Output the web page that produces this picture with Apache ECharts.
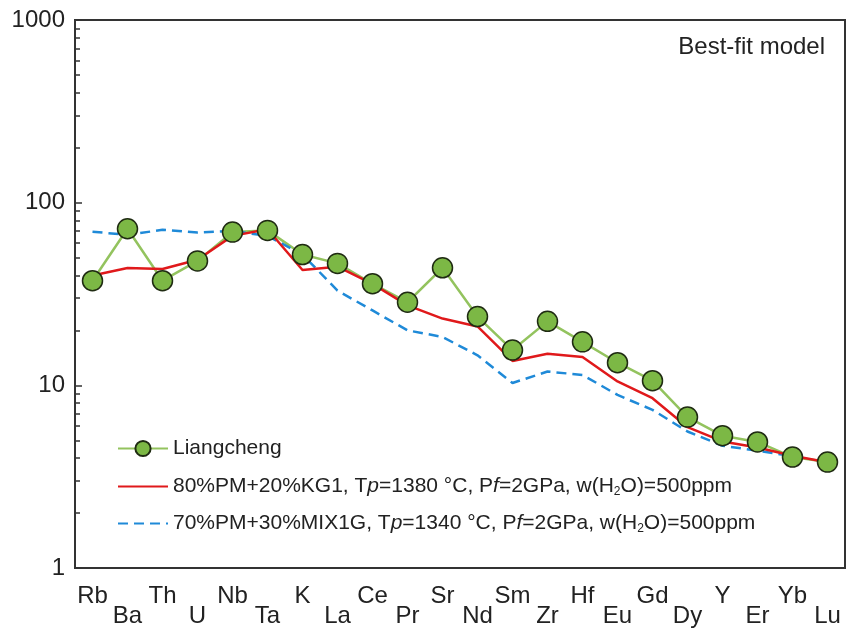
<!DOCTYPE html>
<html>
<head>
<meta charset="utf-8">
<script src="https://cdn.jsdelivr.net/npm/echarts@6/dist/echarts.min.js"></script>
<style>
  html, body { margin: 0; padding: 0; background: #fff; }
  #chart { width: 848px; height: 628px; }
</style>
</head>
<body>
<div id="chart"></div>
<script>
  // 元素（横轴类别）
  var elements = ['Rb', 'Ba', 'Th', 'U', 'Nb', 'Ta', 'K', 'La', 'Ce', 'Pr', 'Sr',
    'Nd', 'Sm', 'Zr', 'Hf', 'Eu', 'Gd', 'Dy', 'Y', 'Er', 'Yb', 'Lu'];

  // 样品实测值
  var liangcheng = [37.4, 72, 37.4, 48, 69, 70.5, 52, 46.5, 36, 28.5, 44,
    23.8, 15.6, 22.4, 17.3, 13.3, 10.6, 6.7, 5.3, 4.9, 4.05, 3.8];

  // 80%PM+20%KG1 模型
  var modelKG1 = [39.9, 43.9, 43.3, 48.7, 65.8, 71.5, 42.8, 44.6, 35.9, 27.4, 23.2,
    21.0, 13.6, 14.9, 14.3, 10.5, 8.5, 5.9, 4.93, 4.57, 4.12, 3.79];

  // 70%PM+30%MIX1G 模型
  var modelMIX1G = [69.4, 66.6, 71, 68.6, 70, 65.8, 52, 33, 25.7, 20, 18.4,
    14.6, 10.3, 11.9, 11.4, 8.86, 7.34, 5.59, 4.67, 4.39, 4.09, null];

  var yTicks = [1, 10, 100, 1000];

  var legendNames = {
    'Liangcheng': 'Liangcheng',
    'KG1': '80%PM+20%KG1, T{it|p}=1380 °C, P{it|f}=2GPa, w(H{sub|2}O)=500ppm',
    'MIX1G': '70%PM+30%MIX1G, T{it|p}=1340 °C, P{it|f}=2GPa, w(H{sub|2}O)=500ppm'
  };

  var font = "'Liberation Sans', Arial, sans-serif";
  var legendText = {
    fontFamily: font,
    fontSize: 21,
    color: '#222',
    rich: {
      it: { fontFamily: font, fontSize: 21, fontStyle: 'italic', color: '#222' },
      sub: { fontFamily: font, fontSize: 12, color: '#222', padding: [10, 0, 0, 0] }
    }
  };

  function makeLegend(name, top, noSymbol) {
    var lg = {
      data: [name],
      left: 112,
      top: top,
      orient: 'vertical',
      itemWidth: 50,
      itemHeight: 19,
      selectedMode: false,
      textStyle: legendText,
      formatter: function (n) { return legendNames[n]; }
    };
    if (noSymbol) {
      lg.itemStyle = { opacity: 0 };
    }
    return lg;
  }

  var chart = echarts.init(document.getElementById('chart'));

  chart.setOption({
    animation: false,
    title: {
      text: 'Best-fit model',
      right: 18,
      top: 30,
      textStyle: { fontFamily: font, fontSize: 24, fontWeight: 'normal', color: '#222' }
    },
    legend: [
      makeLegend('Liangcheng', 433, false),
      makeLegend('KG1', 471, true),
      makeLegend('MIX1G', 508, true)
    ],
    grid: {
      left: 75,
      right: 3,
      top: 20,
      bottom: 59,
      show: true,
      borderColor: '#333',
      borderWidth: 2
    },
    xAxis: {
      type: 'category',
      data: elements,
      boundaryGap: true,
      axisLine: { lineStyle: { color: '#333', width: 2 } },
      axisTick: { inside: true, alignWithLabel: true, length: 6, lineStyle: { color: '#333', width: 1.5 } },
      axisLabel: {
        interval: 0,
        margin: 18,
        fontFamily: font,
        fontSize: 24,
        lineHeight: 20,
        color: '#222',
        formatter: function (v, i) { return i % 2 ? '\n' + v : v; }
      }
    },
    yAxis: {
      type: 'log',
      logBase: 10,
      min: yTicks[0],
      max: yTicks[yTicks.length - 1],
      axisLine: { show: true, lineStyle: { color: '#333', width: 2 } },
      axisTick: { show: true, inside: true, length: 7, lineStyle: { color: '#333', width: 1.5 } },
      minorTick: { show: true, splitNumber: 9, length: 5, lineStyle: { color: '#333', width: 1.5 } },
      splitLine: { show: false },
      axisLabel: {
        margin: 10,
        fontFamily: font,
        fontSize: 24,
        color: '#222',
        formatter: function (v) { return String(v); }
      }
    },
    series: [
      {
        name: 'Liangcheng',
        type: 'line',
        data: liangcheng,
        symbol: 'circle',
        symbolSize: 20,
        lineStyle: { color: '#93c35e', width: 2.5 },
        itemStyle: { color: '#7cb845', borderColor: '#1f2b12', borderWidth: 1.5 }
      },
      {
        name: 'MIX1G',
        type: 'line',
        data: modelMIX1G,
        showSymbol: false,
        symbol: 'none',
        lineStyle: { color: '#1f8ad8', width: 2.5, type: [10, 6] },
        itemStyle: { color: '#1f8ad8' }
      },
      {
        name: 'KG1',
        type: 'line',
        data: modelKG1,
        showSymbol: false,
        symbol: 'none',
        lineStyle: { color: '#e0191b', width: 2.5 },
        itemStyle: { color: '#e0191b' }
      }
    ]
  });
</script>
</body>
</html>
